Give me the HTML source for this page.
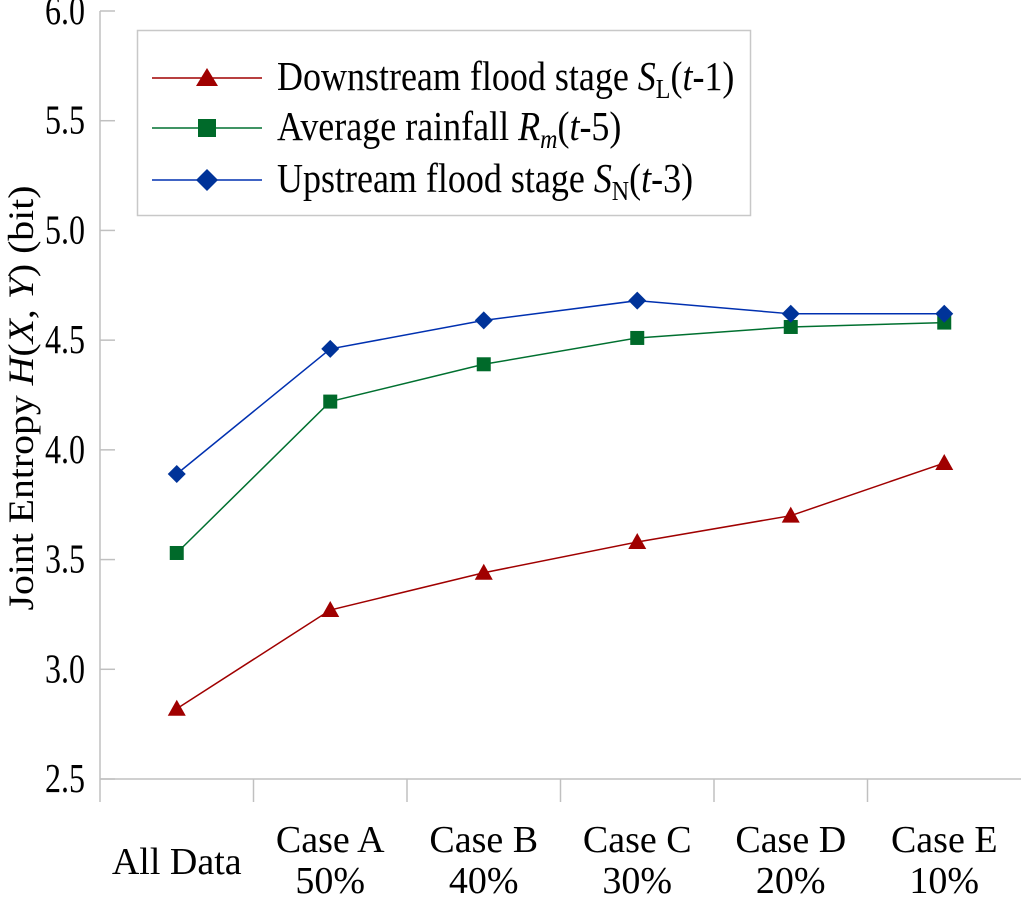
<!DOCTYPE html>
<html><head><meta charset="utf-8"><style>
body{margin:0;background:#fff}
svg text{font-family:"Liberation Serif",serif;fill:#000}
</style></head><body>
<svg id="chart" width="1024" height="897" xmlns="http://www.w3.org/2000/svg">
<g id="axes"></g><g id="series"></g>
<g>
<rect x="137.5" y="30.5" width="613" height="185" fill="#fff" stroke="#c8c8c8" stroke-width="1.5"/>
<g>
<line x1="152" y1="78" x2="262" y2="78" stroke="#a00000" stroke-width="1.5"/>
<polygon points="207,68 218,86 196,86" fill="#a00000"/>
<text transform="translate(277,90) scale(1,1.15)" font-size="36">Downstream flood stage <tspan font-style="italic">S</tspan><tspan font-size="24" dy="7">L</tspan><tspan dy="-7">(</tspan><tspan font-style="italic">t</tspan>-1)</text></g>
<g>
<line x1="152" y1="128" x2="262" y2="128" stroke="#007030" stroke-width="1.5"/>
<rect x="198" y="119" width="18" height="18" fill="#006a2a"/>
<text transform="translate(277,140) scale(1,1.15)" font-size="36">Average rainfall <tspan font-style="italic">R</tspan><tspan font-style="italic" font-size="24" dy="7">m</tspan><tspan dy="-7">(</tspan><tspan font-style="italic">t</tspan>-5)</text></g>
<g>
<line x1="152" y1="180" x2="262" y2="180" stroke="#0030b0" stroke-width="1.5"/>
<polygon points="207,169 218,180 207,191 196,180" fill="#003399"/>
<text transform="translate(277,192) scale(1,1.15)" font-size="36">Upstream flood stage <tspan font-style="italic">S</tspan><tspan font-size="24" dy="7">N</tspan><tspan dy="-7">(</tspan><tspan font-style="italic">t</tspan>-3)</text></g>
</g>
<text transform="translate(33,398) rotate(-90)" text-anchor="middle" font-size="36" textLength="425" lengthAdjust="spacingAndGlyphs">Joint Entropy <tspan font-style="italic">H</tspan>(<tspan font-style="italic">X</tspan>, <tspan font-style="italic">Y</tspan>)  (bit)</text>
</svg>
<script>
const categories=["All Data","Case A","Case B","Case C","Case D","Case E"];
const subLabels=["","50%","40%","30%","20%","10%"];
const yTicks=[2.5,3.0,3.5,4.0,4.5,5.0,5.5,6.0];
const downstream=[2.82,3.27,3.44,3.58,3.70,3.94];
const rainfall=[3.53,4.22,4.39,4.51,4.56,4.58];
const upstream=[3.89,4.46,4.59,4.68,4.62,4.62];
const NS="http://www.w3.org/2000/svg";
const L=100,R=1021,T=11,B=779,step=(R-L)/categories.length;
const x=i=>L+step*(i+0.5);
const y=v=>B-(v-2.5)/3.5*(B-T);
function mk(tag,attrs,parent){const e=document.createElementNS(NS,tag);for(const k in attrs)e.setAttribute(k,attrs[k]);parent.appendChild(e);return e;}
const axes=document.getElementById('axes');
let e=mk('line',{x1:L,y1:T,x2:L,y2:802,stroke:'#c0c0c0','stroke-width':1.5},axes);


e=mk('line',{x1:L,y1:B,x2:R,y2:B,stroke:'#c0c0c0','stroke-width':1.5},axes);


yTicks.forEach(v=>{
 mk('line',{x1:L,y1:y(v),x2:L+15,y2:y(v),stroke:'#c0c0c0','stroke-width':1.5},axes);
 const t=mk('text',{transform:`translate(85,${y(v)+13}) scale(1,1.3)`,'text-anchor':'end','font-size':32},axes);t.textContent=v.toFixed(1);
 
 
});
categories.forEach((c,i)=>{
 if(i>0)mk('line',{x1:L+step*i,y1:B,x2:L+step*i,y2:802,stroke:'#c0c0c0','stroke-width':1.5},axes);
 const sub=subLabels[i];
 const t=mk('text',{x:x(i),y:sub?852:874,'text-anchor':'middle','font-size':38},axes);t.textContent=c;
 
 
 if(sub){const s=mk('text',{x:x(i),y:893,'text-anchor':'middle','font-size':38},axes);s.textContent=sub;
 
 }
});
const ser=document.getElementById('series');
function draw(vals,color,fill,shape,name){
 const g=mk('g',{},ser);
 
 
 mk('polyline',{points:vals.map((v,i)=>x(i)+','+y(v)).join(' '),fill:'none',stroke:color,'stroke-width':1.5},g);
 vals.forEach((v,i)=>{const cx=x(i),cy=y(v);let m;
  if(shape==='tri')m=mk('polygon',{points:`${cx},${cy-9} ${cx+9},${cy+7} ${cx-9},${cy+7}`,fill:fill},g);
  else if(shape==='sq')m=mk('rect',{x:cx-7,y:cy-7,width:14,height:14,fill:fill},g);
  else m=mk('polygon',{points:`${cx},${cy-9} ${cx+9},${cy} ${cx},${cy+9} ${cx-9},${cy}`,fill:fill},g);
  
  
 });
}
draw(downstream,'#a00000','#a00000','tri','downstream-series');
draw(rainfall,'#007030','#006a2a','sq','rainfall-series');
draw(upstream,'#0030b0','#003399','dia','upstream-series');
</script>
</body></html>
